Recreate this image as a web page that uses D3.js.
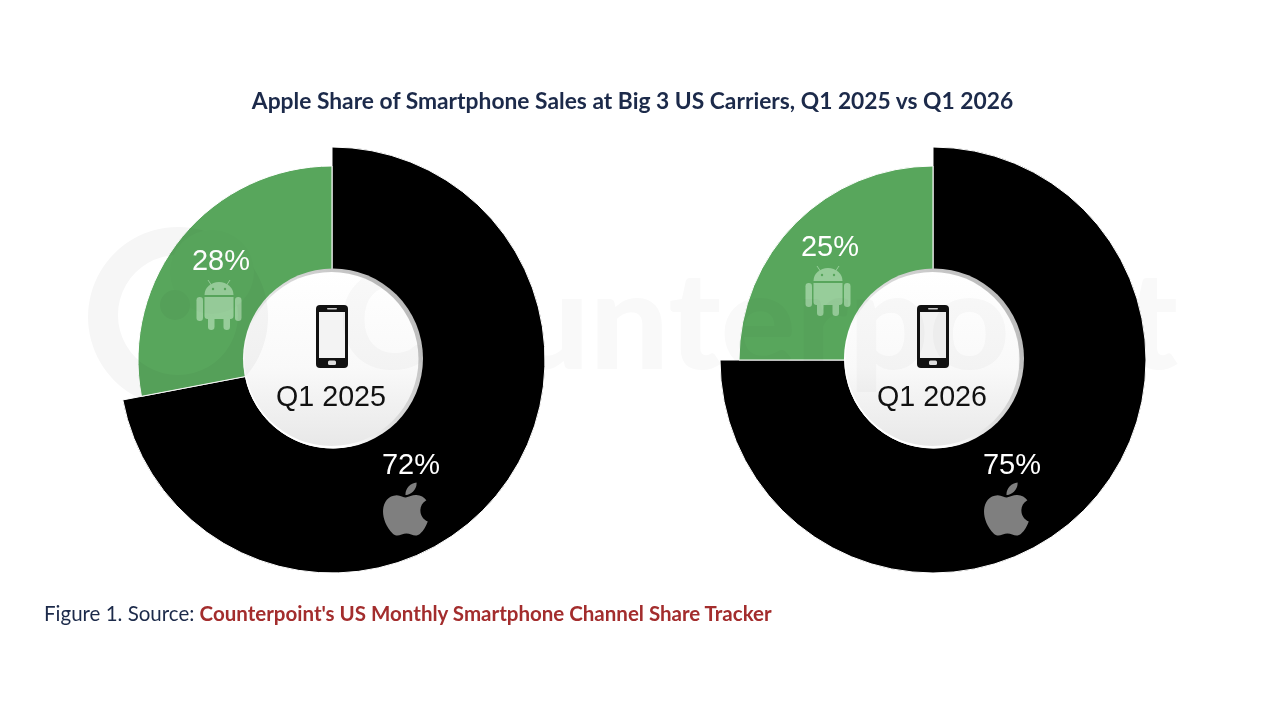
<!DOCTYPE html>
<html>
<head>
<meta charset="utf-8">
<script src="https://cdn.jsdelivr.net/npm/d3@7/dist/d3.min.js"></script>
<style>
  html, body { margin: 0; padding: 0; background: #fff; }
  svg { display: block; }
  .multiply { mix-blend-mode: multiply; }
</style>
</head>
<body>
<svg id="chart" width="1280" height="720"></svg>
<script>
// values
const periods = ['Q1 2025', 'Q1 2026']
const brands = ['Apple', 'Android']
const appleShare = [72, 75]
const androidShare = [28, 25]

const titleText = 'Apple Share of Smartphone Sales at Big 3 US Carriers, Q1 2025 vs Q1 2026'
const sourceLead = 'Figure 1. Source: '
const sourceName = "Counterpoint's US Monthly Smartphone Channel Share Tracker"

const WIDTH = 1280
const HEIGHT = 720
const colors = d3.scaleOrdinal().domain(brands).range(['#000000', '#58a65c'])
const outerRadius = d3.scaleOrdinal().domain(brands).range([213, 194])
const INNER = 88
const SANS = '"Liberation Sans", Arial, sans-serif'
const LATO = 'Lato, sans-serif'

// center of each donut
const centerX = d3.scalePoint().domain(periods).range([332, 933])
const centerY = 360

const svg = d3.select('#chart').attr('width', WIDTH).attr('height', HEIGHT)

// gradients of the center disc
const defs = svg.append('defs')
const discFill = defs.append('linearGradient').attr('id', 'discFill')
  .attr('x1', 0).attr('y1', 0).attr('x2', 0).attr('y2', 1)
discFill.append('stop').attr('offset', '0%').attr('stop-color', '#ffffff')
discFill.append('stop').attr('offset', '55%').attr('stop-color', '#f9f9f9')
discFill.append('stop').attr('offset', '100%').attr('stop-color', '#e8e8e8')
const discRim = defs.append('linearGradient').attr('id', 'discRim')
  .attr('x1', 1).attr('y1', 0.15).attr('x2', 0.1).attr('y2', 0.9)
discRim.append('stop').attr('offset', '0%').attr('stop-color', '#b4b4b4')
discRim.append('stop').attr('offset', '45%').attr('stop-color', '#d8d8d8')
discRim.append('stop').attr('offset', '75%').attr('stop-color', '#ffffff')
discRim.append('stop').attr('offset', '100%').attr('stop-color', '#ffffff')

svg.append('rect').attr('width', WIDTH).attr('height', HEIGHT).attr('fill', '#fff')

const pie = d3.pie().sort(null).value(function(d) { return d.value })
const arc = d3.arc()
  .innerRadius(INNER)
  .outerRadius(function(d) { return outerRadius(d.data.brand) })

// one group per donut
const donuts = svg.selectAll('.donut')
  .data(periods)
  .enter().append('g')
  .attr('class', 'donut')
  .attr('transform', function(d) { return 'translate(' + centerX(d) + ',' + centerY + ')' })

donuts.selectAll('path.slice')
  .data(function(d, i) {
    return pie([
      { brand: brands[0], value: appleShare[i] },
      { brand: brands[1], value: androidShare[i] }
    ])
  })
  .enter().append('path')
  .attr('class', 'slice')
  .attr('d', arc)
  .attr('fill', function(d) { return colors(d.data.brand) })
  .attr('stroke', '#fff')
  .attr('stroke-width', 1)

// center disc
donuts.append('circle').attr('cx', 1).attr('cy', -1.5).attr('r', 90).attr('fill', 'url(#discRim)')
donuts.append('circle').attr('cx', -0.5).attr('cy', -1).attr('r', 87).attr('fill', 'url(#discFill)')

// watermark, only darkens what is below it so black stays black
const mark = svg.append('g').attr('class', 'multiply').attr('fill', '#f6f6f6')
mark.append('path')
  .attr('fill-rule', 'evenodd')
  .attr('d', 'M178,227a90,90 0 1,0 0.1,0zM178,255a60,60 0 1,1 -0.1,0z')
mark.append('circle').attr('cx', 212).attr('cy', 272).attr('r', 42).attr('fill', '#fcfcfc')
mark.append('circle').attr('cx', 175).attr('cy', 305).attr('r', 15).attr('fill', '#f6f6f6')
mark.append('text')
  .attr('x', 338).attr('y', 369)
  .attr('textLength', 840)
  .attr('lengthAdjust', 'spacingAndGlyphs')
  .attr('font-family', LATO)
  .attr('font-weight', 900)
  .attr('font-size', 136)
  .attr('fill', '#f9f9f9')
  .text('Counterpoint')

// small icons, local coordinates are centered on the icon
function drawPhone(g) {
  g.append('rect').attr('x', -16).attr('y', -32).attr('width', 32).attr('height', 63).attr('rx', 4).attr('fill', '#111')
  g.append('rect').attr('x', -13).attr('y', -25).attr('width', 26).attr('height', 46).attr('fill', '#f3f3f3')
  g.append('rect').attr('x', -5).attr('y', -29).attr('width', 10).attr('height', 1.6).attr('rx', 0.8).attr('fill', '#ccc')
  g.append('rect').attr('x', -4).attr('y', 23.5).attr('width', 8).attr('height', 4.5).attr('rx', 1.5).attr('fill', '#ddd')
}

function drawAndroid(g) {
  const c = '#97cd9a'
  g.attr('fill', c)
  g.append('path').attr('d', 'M-14.5,-10a14.5,13 0 0,1 29,0z')
  g.append('path').attr('d', 'M-14.5,-8H14.5V11a3,3 0 0,1 -3,3H-11.5a3,3 0 0,1 -3,-3z')
  g.append('rect').attr('x', -22.5).attr('y', -8).attr('width', 6.5).attr('height', 24).attr('rx', 3.2)
  g.append('rect').attr('x', 16).attr('y', -8).attr('width', 6.5).attr('height', 24).attr('rx', 3.2)
  g.append('rect').attr('x', -11).attr('y', 10).attr('width', 6.5).attr('height', 15).attr('rx', 3.2)
  g.append('rect').attr('x', 4.5).attr('y', 10).attr('width', 6.5).attr('height', 15).attr('rx', 3.2)
  g.append('path').attr('d', 'M-11,-25L-7,-19M11,-25L7,-19').attr('stroke', c).attr('stroke-width', 1)
  g.append('circle').attr('cx', -6).attr('cy', -16).attr('r', 1.2).attr('fill', '#58a65c')
  g.append('circle').attr('cx', 6).attr('cy', -16).attr('r', 1.2).attr('fill', '#58a65c')
}

function drawApple(g) {
  g.append('path')
    .attr('transform', 'scale(2.95) translate(-12.2,-12)')
    .attr('fill', '#7f7f7f')
    .attr('d', 'M17.05 20.28c-.98.95-2.05.8-3.08.35-1.09-.46-2.09-.48-3.24 0-1.44.62-2.2.44-3.06-.35C2.79 15.25 3.51 7.59 9.05 7.31c1.35.07 2.29.74 3.08.8 1.18-.24 2.31-.93 3.57-.84 1.51.12 2.65.72 3.4 1.8-3.12 1.87-2.38 5.98.48 7.13-.57 1.5-1.31 2.99-2.54 4.09zM12.03 7.25c-.15-2.23 1.66-4.07 3.74-4.25.29 2.58-2.34 4.5-3.74 4.25z')
}

// labels and icons sit per donut at hand placed offsets
const androidOffset = [[-113, -55], [-105, -69]]
const appleOffset = [[74, 149], [74, 149]]

donuts.each(function(period, i) {
  const g = d3.select(this)

  drawPhone(g.append('g').attr('transform', 'translate(0,-23)'))
  g.append('text')
    .attr('x', -1).attr('y', 46).attr('text-anchor', 'middle')
    .attr('font-family', SANS).attr('font-size', 29.5).attr('fill', '#111')
    .attr('textLength', 110).attr('lengthAdjust', 'spacingAndGlyphs')
    .text(period)

  const a = androidOffset[i]
  g.append('text')
    .attr('x', a[0] + 2).attr('y', a[1] - 35).attr('text-anchor', 'middle')
    .attr('font-family', SANS).attr('font-size', 29.5).attr('fill', '#fff')
    .attr('textLength', 58).attr('lengthAdjust', 'spacingAndGlyphs')
    .text(androidShare[i] + '%')
  drawAndroid(g.append('g').attr('transform', 'translate(' + a[0] + ',' + a[1] + ')'))

  const b = appleOffset[i]
  g.append('text')
    .attr('x', b[0] + 5).attr('y', b[1] - 35.5).attr('text-anchor', 'middle')
    .attr('font-family', SANS).attr('font-size', 29.5).attr('fill', '#fff')
    .attr('textLength', 58).attr('lengthAdjust', 'spacingAndGlyphs')
    .text(appleShare[i] + '%')
  drawApple(g.append('g').attr('transform', 'translate(' + b[0] + ',' + b[1] + ')'))
})

// title and source
svg.append('text')
  .attr('x', 632.5).attr('y', 109)
  .attr('text-anchor', 'middle')
  .attr('font-family', LATO).attr('font-weight', 700).attr('font-size', 22.8)
  .attr('fill', '#1c2a4a')
  .text(titleText)

const source = svg.append('text')
  .attr('x', 44).attr('y', 621)
  .attr('font-family', LATO).attr('font-size', 20.5)
  .attr('fill', '#1c2a4a')
source.append('tspan').attr('xml:space', 'preserve').text(sourceLead)
source.append('tspan').attr('font-weight', 700).attr('fill', '#a32d2d').text(sourceName)
</script>
</body>
</html>
